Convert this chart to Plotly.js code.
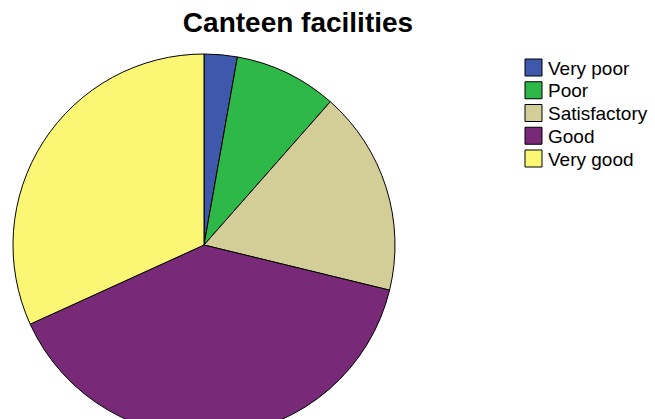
<!DOCTYPE html>
<html>
<head>
<meta charset="utf-8">
<script src="https://cdn.plot.ly/plotly-3.0.1.min.js"></script>
<style>
html,body{margin:0;padding:0;overflow:hidden;background:#fff;width:655px;height:419px;}
#chart{width:655px;height:440px;}
</style>
</head>
<body>
<div id="chart"></div>
<script>
var categories = ["Very poor", "Poor", "Satisfactory", "Good", "Very good"];
var percents = [2.8, 8.7, 17.3, 39.4, 31.8];
var colors = ["#3e58ac", "#2eb848", "#d3ce97", "#782a79", "#fbf774"];

var W = 655, H = 440;
var cx = 204, cy = 245, r = 191;
function px(x) { return x / W; }
function py(y) { return 1 - y / H; }

var trace = {
  type: "pie",
  labels: categories,
  values: percents,
  sort: false,
  direction: "clockwise",
  rotation: 0,
  textinfo: "none",
  hoverinfo: "label+percent",
  showlegend: false,
  marker: {colors: colors, line: {color: "#000000", width: 1}},
  domain: {
    x: [px(cx - r), px(cx + r)],
    y: [py(cy + r), py(cy - r)]
  }
};

// legend drawn with shapes + annotations built from the arrays
var legX0 = 525, legX1 = 542, legTop = 59, legBox = 17, legStep = 22.75, legText = 546;
var shapes = [], annotations = [];
categories.forEach(function (c, i) {
  var y0 = legTop + i * legStep;
  shapes.push({
    type: "rect", xref: "paper", yref: "paper",
    x0: px(legX0), x1: px(legX1), y0: py(y0), y1: py(y0 + legBox),
    fillcolor: colors[i], line: {color: "#000000", width: 1}
  });
  annotations.push({
    xref: "paper", yref: "paper", x: px(legText), y: py(y0 + legBox / 2 + 0.5),
    xanchor: "left", yanchor: "middle", showarrow: false,
    text: c, font: {size: 19, family: "Liberation Sans, Arial, sans-serif", color: "#000000"}
  });
});

var layout = {
  width: W, height: H,
  margin: {l: 0, r: 0, t: 0, b: 0},
  paper_bgcolor: "#ffffff",
  font: {family: "Liberation Sans, Arial, sans-serif", color: "#000000"},
  title: {
    text: "<b>Canteen facilities</b>",
    font: {family: "Liberation Sans, Arial, sans-serif", size: 28, color: "#000000"},
    x: px(298), xanchor: "center", xref: "paper",
    y: py(22), yanchor: "middle", yref: "container"
  },
  showlegend: false,
  shapes: shapes,
  annotations: annotations
};

Plotly.newPlot("chart", [trace], layout, {displayModeBar: false, staticPlot: true});
</script>
</body>
</html>
